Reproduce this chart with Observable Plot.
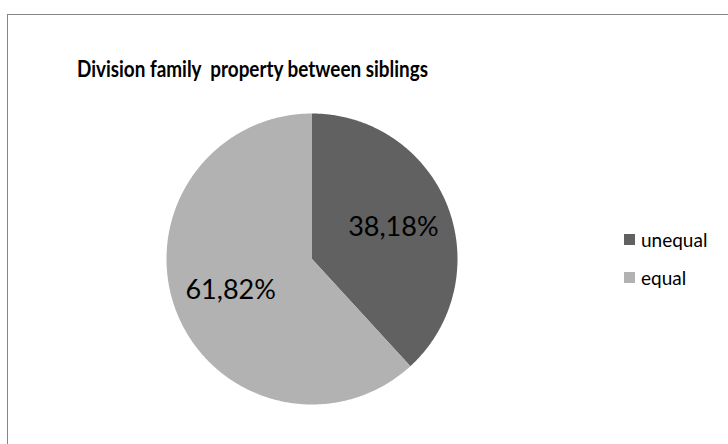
<!DOCTYPE html>
<html>
<head>
<meta charset="utf-8">
<script src="https://cdn.jsdelivr.net/npm/d3@7"></script>
<script src="https://cdn.jsdelivr.net/npm/@observablehq/plot@0.6"></script>
<style>
  html, body { margin: 0; padding: 0; background: #fff; }
  #wrap { position: relative; width: 728px; height: 444px; overflow: hidden; }
  #frame { position: absolute; left: 7px; top: 14px; width: 800px; height: 500px; border: 1px solid #868686; box-sizing: border-box; }
  #title { position: absolute; left: 77px; top: 54px; font-family: Lato, sans-serif; font-weight: bold; font-size: 23px; white-space: pre; color: #000; transform-origin: 0 0; }
  #chart { position: absolute; left: 0; top: 0; }
  #legend { position: absolute; left: 624px; top: 228px; font-family: Lato, sans-serif; font-size: 19px; color: #000; }
  .item { display: flex; align-items: center; height: 22px; margin-bottom: 16px; }
  .sw { width: 11px; height: 11px; margin-right: 6px; }
</style>
</head>
<body>
<div id="wrap">
  <div id="frame"></div>
  <div id="chart"></div>
  <div id="title"></div>
  <div id="legend"></div>
</div>
<script>
const categories = ["unequal", "equal"];
const values = [38.18, 61.82];
const colors = ["#616161", "#b2b2b2"];
const titleText = "Division family  property between siblings";

const fmt = v => d3.format(".2f")(v).replace(".", ",") + "%";

const total = d3.sum(values);
const slices = [];
let acc = 0;
categories.forEach((c, i) => {
  const a0 = acc / total * 2 * Math.PI;
  acc += values[i];
  const a1 = acc / total * 2 * Math.PI;
  slices.push({cat: c, value: values[i], a0, a1});
});

// polygon points of each slice (angle clockwise from 12 o'clock)
const pts = [];
slices.forEach(s => {
  pts.push({cat: s.cat, x: 0, y: 0});
  const n = Math.max(2, Math.ceil((s.a1 - s.a0) / (Math.PI / 360)));
  for (let k = 0; k <= n; k++) {
    const a = s.a0 + (s.a1 - s.a0) * k / n;
    pts.push({cat: s.cat, x: Math.sin(a), y: Math.cos(a)});
  }
  pts.push({cat: s.cat, x: 0, y: 0});
});

const labelR = 0.6;
const labels = slices.map(s => {
  const m = (s.a0 + s.a1) / 2;
  return {cat: s.cat, x: labelR * Math.sin(m), y: labelR * Math.cos(m), text: fmt(s.value)};
});

const cx = 311.5, cy = 258.5, r = 145.5;
const W = 728, H = 444;

const plot = Plot.plot({
  width: W,
  height: H,
  marginLeft: cx - r,
  marginRight: W - (cx + r),
  marginTop: cy - r,
  marginBottom: H - (cy + r),
  x: {domain: [-1, 1], axis: null},
  y: {domain: [-1, 1], axis: null},
  color: {domain: categories, range: colors},
  style: {background: "transparent"},
  marks: [
    Plot.line(pts, {x: "x", y: "y", z: "cat", fill: "cat", stroke: null, curve: "linear"}),
    Plot.text(labels, {x: "x", y: "y", text: "text", fontSize: 27, fill: "#000",
      fontFamily: "Lato, sans-serif", textAnchor: "middle", lineAnchor: "middle"})
  ]
});
plot.style.overflow = "visible";
document.getElementById("chart").appendChild(plot);

const title = document.getElementById("title");
title.textContent = titleText;
const tw = title.getBoundingClientRect().width;
title.style.transform = `scaleX(${351 / tw})`;

const legend = document.getElementById("legend");
categories.forEach((c, i) => {
  const it = document.createElement("div");
  it.className = "item";
  const sw = document.createElement("div");
  sw.className = "sw";
  sw.style.background = colors[i];
  const t = document.createElement("span");
  t.textContent = c;
  it.appendChild(sw);
  it.appendChild(t);
  legend.appendChild(it);
});
</script>
</body>
</html>
